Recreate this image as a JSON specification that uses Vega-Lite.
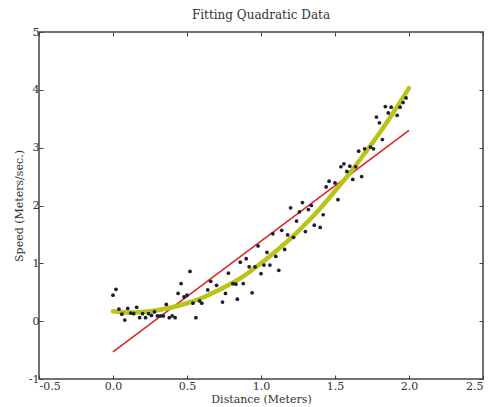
{
  "$schema": "https://vega.github.io/schema/vega-lite/v6.json",
  "width": 444,
  "height": 347,
  "autosize": "none",
  "padding": {"left": 39, "top": 32, "right": 11, "bottom": 28},
  "background": "white",
  "config": {
    "view": {"stroke": "#444444", "strokeWidth": 1.5},
    "font": "DejaVu Serif",
    "axis": {"domain": false, "grid": false, "tickColor": "#444444", "tickSize": -4, "tickWidth": 1, "labelFont": "DejaVu Serif", "labelFontSize": 11, "labelColor": "#333333", "titleFont": "DejaVu Serif", "titleFontSize": 11, "titleFontWeight": "normal", "titleColor": "#333333"}
  },
  "title": {"text": "Fitting Quadratic Data", "font": "DejaVu Serif", "fontSize": 12, "fontWeight": "normal", "color": "#333333", "offset": 4},
  "datasets": {
    "pts": [
      {"x": 0.0, "y": 0.45}, {"x": 0.02, "y": 0.55}, {"x": 0.04, "y": 0.21}, {"x": 0.06, "y": 0.12},
      {"x": 0.08, "y": 0.02}, {"x": 0.10, "y": 0.22}, {"x": 0.12, "y": 0.14}, {"x": 0.14, "y": 0.13},
      {"x": 0.16, "y": 0.24}, {"x": 0.18, "y": 0.06}, {"x": 0.20, "y": 0.13}, {"x": 0.22, "y": 0.06},
      {"x": 0.24, "y": 0.13}, {"x": 0.26, "y": 0.10}, {"x": 0.28, "y": 0.16}, {"x": 0.30, "y": 0.09},
      {"x": 0.32, "y": 0.09}, {"x": 0.34, "y": 0.09}, {"x": 0.36, "y": 0.29}, {"x": 0.38, "y": 0.06},
      {"x": 0.40, "y": 0.09}, {"x": 0.42, "y": 0.06}, {"x": 0.44, "y": 0.48}, {"x": 0.46, "y": 0.65},
      {"x": 0.48, "y": 0.42}, {"x": 0.50, "y": 0.45}, {"x": 0.52, "y": 0.86}, {"x": 0.54, "y": 0.31},
      {"x": 0.56, "y": 0.06}, {"x": 0.585, "y": 0.35}, {"x": 0.60, "y": 0.31}, {"x": 0.64, "y": 0.54},
      {"x": 0.66, "y": 0.69}, {"x": 0.70, "y": 0.62}, {"x": 0.74, "y": 0.33}, {"x": 0.76, "y": 0.48},
      {"x": 0.78, "y": 0.83}, {"x": 0.81, "y": 0.65}, {"x": 0.83, "y": 0.64}, {"x": 0.84, "y": 0.38},
      {"x": 0.86, "y": 1.02}, {"x": 0.88, "y": 0.65}, {"x": 0.90, "y": 1.08}, {"x": 0.92, "y": 0.94},
      {"x": 0.94, "y": 0.49}, {"x": 0.96, "y": 0.94}, {"x": 0.98, "y": 1.30}, {"x": 1.00, "y": 0.82},
      {"x": 1.02, "y": 0.97}, {"x": 1.04, "y": 1.19}, {"x": 1.06, "y": 0.97}, {"x": 1.08, "y": 1.51},
      {"x": 1.10, "y": 1.12}, {"x": 1.12, "y": 0.88}, {"x": 1.14, "y": 1.57}, {"x": 1.16, "y": 1.24},
      {"x": 1.18, "y": 1.49}, {"x": 1.20, "y": 1.96}, {"x": 1.22, "y": 1.45}, {"x": 1.24, "y": 1.73},
      {"x": 1.26, "y": 1.89}, {"x": 1.28, "y": 2.05}, {"x": 1.30, "y": 1.55}, {"x": 1.32, "y": 1.93},
      {"x": 1.34, "y": 2.00}, {"x": 1.36, "y": 1.66}, {"x": 1.40, "y": 1.62}, {"x": 1.42, "y": 1.84},
      {"x": 1.44, "y": 2.32}, {"x": 1.46, "y": 2.42}, {"x": 1.50, "y": 2.39}, {"x": 1.52, "y": 2.10},
      {"x": 1.54, "y": 2.67}, {"x": 1.56, "y": 2.72}, {"x": 1.58, "y": 2.59}, {"x": 1.60, "y": 2.68},
      {"x": 1.62, "y": 2.45}, {"x": 1.64, "y": 2.67}, {"x": 1.66, "y": 2.94}, {"x": 1.68, "y": 2.50},
      {"x": 1.70, "y": 2.98}, {"x": 1.74, "y": 3.01}, {"x": 1.76, "y": 2.98}, {"x": 1.78, "y": 3.53},
      {"x": 1.80, "y": 3.43}, {"x": 1.82, "y": 3.14}, {"x": 1.84, "y": 3.71}, {"x": 1.86, "y": 3.60},
      {"x": 1.88, "y": 3.70}, {"x": 1.92, "y": 3.56}, {"x": 1.94, "y": 3.70}, {"x": 1.96, "y": 3.78},
      {"x": 1.98, "y": 3.86}
    ],
    "lin": [
      {"x": 0.0, "y": -0.53}, {"x": 2.0, "y": 3.30}
    ],
    "quad": [
      {"x": 0.0, "y": 0.17}, {"x": 0.1, "y": 0.15}, {"x": 0.2, "y": 0.16}, {"x": 0.3, "y": 0.19},
      {"x": 0.4, "y": 0.24}, {"x": 0.5, "y": 0.31}, {"x": 0.6, "y": 0.40}, {"x": 0.7, "y": 0.52},
      {"x": 0.8, "y": 0.65}, {"x": 0.9, "y": 0.81}, {"x": 1.0, "y": 1.00}, {"x": 1.1, "y": 1.21},
      {"x": 1.2, "y": 1.43}, {"x": 1.3, "y": 1.68}, {"x": 1.4, "y": 1.95}, {"x": 1.5, "y": 2.25},
      {"x": 1.6, "y": 2.56}, {"x": 1.7, "y": 2.90}, {"x": 1.8, "y": 3.25}, {"x": 1.9, "y": 3.63},
      {"x": 2.0, "y": 4.03}
    ]
  },
  "layer": [
    {
      "data": {"name": "lin"},
      "mark": {"type": "line", "color": "#e02424", "strokeWidth": 1.6, "clip": true},
      "encoding": {
        "x": {"field": "x", "type": "quantitative", "scale": {"domain": [-0.5, 2.5], "nice": false, "zero": false},
              "axis": {"orient": "top", "labels": false, "title": null, "values": [-0.5, 0, 0.5, 1, 1.5, 2, 2.5]}},
        "y": {"field": "y", "type": "quantitative", "scale": {"domain": [-1, 5], "nice": false, "zero": false},
              "axis": {"orient": "right", "labels": false, "title": null, "values": [-1, 0, 1, 2, 3, 4, 5]}}
      }
    },
    {
      "data": {"name": "quad"},
      "mark": {"type": "line", "color": "#b9c414", "strokeWidth": 4.5, "interpolate": "monotone", "strokeCap": "round"},
      "encoding": {
        "x": {"field": "x", "type": "quantitative", "axis": null},
        "y": {"field": "y", "type": "quantitative", "axis": null}
      }
    },
    {
      "data": {"name": "pts"},
      "mark": {"type": "circle", "color": "#1b1b3c", "size": 14, "opacity": 1},
      "encoding": {
        "x": {"field": "x", "type": "quantitative",
              "axis": {"orient": "bottom", "title": "Distance (Meters)", "values": [-0.5, 0, 0.5, 1, 1.5, 2, 2.5], "format": ".1f", "labelExpr": "replace(datum.label, '\u2212', '-')", "labelPadding": 5, "titlePadding": 2}},
        "y": {"field": "y", "type": "quantitative",
              "axis": {"orient": "left", "title": "Speed (Meters/sec.)", "values": [-1, 0, 1, 2, 3, 4, 5], "format": "d", "labelExpr": "replace(datum.label, '\u2212', '-')", "labelPadding": 4, "titlePadding": 4}}
      }
    }
  ],
  "resolve": {"axis": {"x": "independent", "y": "independent"}}
}
